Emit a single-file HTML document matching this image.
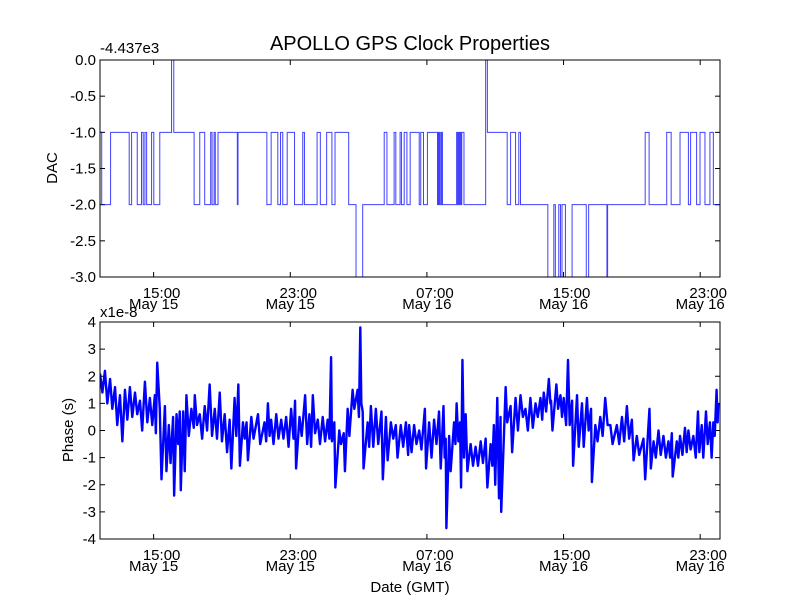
<!DOCTYPE html>
<html><head><meta charset="utf-8"><style>
body{margin:0;background:#fff;}
svg{display:block;font-family:"Liberation Sans","DejaVu Sans",sans-serif;}
</style></head><body>
<svg id="chart" width="800" height="600" viewBox="0 0 800 600">
<rect width="800" height="600" fill="#fff"/>
<text x="410" y="50" font-size="20" text-anchor="middle">APOLLO GPS Clock Properties</text>
<text x="100" y="53" font-size="15">-4.437e3</text>
<text x="100" y="317" font-size="15">x1e-8</text>
<text transform="translate(57,168) rotate(-90)" font-size="15" text-anchor="middle">DAC</text>
<text transform="translate(73,430) rotate(-90)" font-size="15" text-anchor="middle">Phase (s)</text>
<text x="410" y="592" font-size="15" text-anchor="middle">Date (GMT)</text>
<g id="top"></g><g id="bot"></g>
</svg>
<script>
const xTickHours=[15,23,31,39,47];
const xTickTimes=["15:00","23:00","07:00","15:00","23:00"];
const xTickDates=["May 15","May 15","May 16","May 16","May 16"];
const dacTicks=[0,-0.5,-1,-1.5,-2,-2.5,-3];
const phaseTicks=[4,3,2,1,0,-1,-2,-3,-4];
const dacTimes=[11.86,11.96,12.48,13.57,13.71,14.04,14.29,14.39,14.49,14.59,14.88,15.01,15.36,16.05,16.18,17.37,17.70,17.99,18.34,18.42,18.54,18.61,18.77,19.90,19.94,21.63,21.88,22.27,22.43,22.56,22.82,23.25,23.73,23.83,24.57,24.76,25.13,25.44,25.62,26.42,26.85,27.24,28.50,28.66,29.08,29.18,29.43,29.51,29.67,29.83,30.02,30.55,30.64,30.80,31.03,31.62,31.66,31.70,31.74,31.78,31.85,31.91,32.74,32.80,32.84,32.90,32.94,33.00,33.04,33.17,34.44,34.54,35.70,35.90,36.19,36.38,36.48,38.08,38.43,38.52,38.72,38.82,38.91,39.11,39.50,40.33,40.47,41.54,41.58,43.78,44.01,45.04,45.30,45.82,46.31,46.44,46.79,46.99,47.28,47.57,47.77];
const dacLevels=[-1,-2,-1,-2,-1,-2,-1,-2,-1,-2,-1,-2,-1,0,-1,-2,-1,-2,-1,-2,-1,-2,-1,-2,-1,-2,-1,-2,-1,-2,-1,-2,-1,-2,-1,-2,-1,-2,-1,-2,-3,-2,-1,-2,-1,-2,-1,-2,-1,-2,-1,-2,-1,-2,-1,-2,-1,-2,-1,-2,-1,-2,-1,-2,-1,-2,-1,-2,-1,-2,0,-1,-2,-1,-2,-1,-2,-3,-2,-3,-2,-3,-2,-3,-2,-3,-2,-3,-2,-1,-2,-1,-2,-1,-2,-1,-2,-1,-2,-1,-2];
const phaseTimes=[11.86,12.00,12.15,12.29,12.45,12.58,12.74,12.87,13.03,13.17,13.32,13.46,13.61,13.75,13.91,14.04,14.20,14.33,14.49,14.63,14.78,14.92,15.07,15.13,15.21,15.36,15.46,15.66,15.75,15.89,15.99,16.14,16.20,16.34,16.44,16.53,16.59,16.73,16.82,16.92,17.06,17.21,17.35,17.41,17.54,17.70,17.84,17.99,18.13,18.28,18.42,18.58,18.71,18.87,19.00,19.16,19.30,19.45,19.55,19.74,19.84,19.96,20.05,20.23,20.33,20.44,20.52,20.72,20.85,21.11,21.24,21.49,21.59,21.69,21.79,21.88,22.02,22.18,22.31,22.47,22.60,22.76,22.90,23.05,23.19,23.28,23.34,23.54,23.67,23.87,23.99,24.12,24.22,24.32,24.45,24.61,24.74,24.90,25.04,25.19,25.29,25.39,25.44,25.58,25.64,25.87,25.97,26.13,26.20,26.36,26.46,26.65,26.75,26.94,27.02,27.10,27.16,27.24,27.29,27.53,27.62,27.72,27.86,28.01,28.15,28.34,28.42,28.60,28.70,28.89,29.03,29.18,29.28,29.47,29.61,29.77,29.90,29.96,30.10,30.25,30.39,30.55,30.68,30.88,30.95,31.13,31.27,31.42,31.56,31.71,31.81,31.97,32.04,32.10,32.14,32.30,32.39,32.59,32.67,32.74,32.84,32.94,33.00,33.08,33.17,33.27,33.37,33.56,33.70,33.85,33.99,34.15,34.28,34.44,34.54,34.73,34.83,34.92,35.00,35.12,35.22,35.31,35.35,35.61,35.70,35.90,35.99,36.19,36.33,36.48,36.62,36.77,36.91,37.06,37.20,37.36,37.49,37.65,37.75,37.84,37.98,38.14,38.23,38.27,38.35,38.58,38.68,38.82,38.91,39.01,39.15,39.26,39.36,39.50,39.56,39.79,39.89,40.08,40.18,40.37,40.47,40.61,40.66,40.86,40.99,41.15,41.29,41.44,41.58,41.74,41.87,42.12,42.26,42.42,42.55,42.71,42.84,43.00,43.10,43.29,43.43,43.68,43.78,44.03,44.11,44.27,44.40,44.56,44.69,44.85,44.99,45.14,45.24,45.34,45.39,45.63,45.72,45.82,45.96,46.11,46.21,46.31,46.44,46.60,46.74,46.87,46.95,47.09,47.18,47.34,47.44,47.57,47.67,47.77,47.85,47.96,48.02,48.06];
const phaseValues=[2.1,1.4,2.2,1.0,1.9,0.8,1.6,0.2,1.3,-0.4,1.5,0.4,1.6,0.5,1.4,0.6,1.1,0.0,1.8,0.3,1.2,0.2,1.3,-0.1,2.5,0.8,-1.8,0.9,-1.5,0.2,-1.2,0.5,-2.4,0.6,-0.5,0.7,-2.2,0.7,-1.5,1.3,-0.2,0.8,0.1,1.3,0.2,0.6,-0.3,0.9,0.0,1.7,-0.2,0.8,-0.3,1.4,-0.4,0.6,-0.8,0.4,-1.4,1.2,-0.2,1.7,-1.3,0.3,-0.3,0.3,-1.1,0.5,-0.3,0.6,-0.5,0.3,-0.4,1.0,-0.2,0.4,-0.5,0.6,-0.3,0.4,-0.3,0.5,-0.6,0.8,-0.3,1.1,-1.4,0.5,-0.2,1.3,-0.5,0.6,-0.6,1.3,-0.1,0.4,-0.5,0.5,-0.4,0.4,-0.3,2.7,-0.4,0.3,-2.1,0.0,-0.5,-0.1,-1.5,0.8,-0.2,1.5,0.8,1.5,0.5,3.8,1.0,0.7,-1.4,0.3,-0.6,0.9,-0.6,0.8,-0.5,0.7,-1.8,0.5,-1.1,0.3,-0.3,0.2,-1.0,0.2,-0.6,0.3,-0.9,0.2,-0.8,0.2,-0.5,0.0,-0.7,0.8,-1.4,0.3,-1.0,0.4,-0.5,0.7,-1.4,0.9,-1.0,-0.3,-3.6,-0.2,-1.5,0.3,-0.5,1.0,-0.4,0.3,-2.1,2.6,-1.0,0.6,-1.5,-0.5,-1.3,-0.6,-1.3,-0.4,-1.2,-0.3,-2.1,-0.5,-1.3,0.2,-2.0,1.2,-2.5,0.5,-3.0,1.6,0.3,0.9,-0.8,1.2,0.0,1.3,0.5,0.8,0.0,1.2,0.1,1.0,0.5,1.2,0.4,1.4,0.7,1.9,1.0,1.1,0.0,1.7,0.8,1.3,0.5,1.2,0.2,2.6,0.2,1.1,-1.3,1.3,-0.6,1.0,-0.6,1.2,0.0,0.8,-1.9,0.2,-0.4,0.5,-0.2,1.2,0.2,0.2,-0.5,0.2,-0.5,0.5,-0.4,0.9,-0.3,0.4,-1.1,-0.2,-0.9,-0.3,-1.8,0.8,-1.4,-0.4,-1.0,0.0,-0.9,-0.2,-1.0,-0.4,-1.0,-0.1,-1.7,-0.4,-1.0,-0.2,-0.9,0.1,-0.8,0.0,-0.7,-0.2,-1.0,0.7,-0.8,0.2,-1.0,0.7,-0.5,0.3,-1.0,0.3,-0.2,1.5,0.3,1.0];

const NS="http://www.w3.org/2000/svg";
const X0=100,X1=720,TMIN=11.86,TMAX=48.16;
function xs(t){return X0+(t-TMIN)/(TMAX-TMIN)*(X1-X0);}
function mk(tag,attrs,parent){const e=document.createElementNS(NS,tag);for(const k in attrs)e.setAttribute(k,attrs[k]);parent.appendChild(e);return e;}

function axes(g,top,bot,vmin,vmax,ticks,fmt,name){
  const ys=v=>bot-(v-vmin)/(vmax-vmin)*(bot-top);
  const cp=mk('clipPath',{id:'clip-'+name},g);mk('rect',{x:X0,y:top,width:X1-X0,height:bot-top},cp);
  ticks.forEach(v=>{
    const y=ys(v);
    const l=mk('line',{x1:X0,x2:X0+5,y1:y,y2:y,stroke:'#000'},g);
    
    mk('line',{x1:X1-5,x2:X1,y1:y,y2:y,stroke:'#000'},g);
    const t=mk('text',{x:X0-4,y:y+5,'font-size':15,'text-anchor':'end'},g);t.textContent=fmt(v);
    
  });
  xTickHours.forEach((h,i)=>{
    const x=xs(h);
    mk('line',{x1:x,x2:x,y1:bot,y2:bot-5,stroke:'#000'},g);
    mk('line',{x1:x,x2:x,y1:top,y2:top+5,stroke:'#000'},g);
    const t1=mk('text',{x:x+8,y:bot+21,'font-size':15,'text-anchor':'middle'},g);t1.textContent=xTickTimes[i];
    
    const t2=mk('text',{x:x,y:bot+32,'font-size':15,'text-anchor':'middle'},g);t2.textContent=xTickDates[i];
    
  });
  return ys;
}
const gt=document.getElementById('top');
const yd=axes(gt,60,277,-3,0,dacTicks,v=>v.toFixed(1),'dac');
let d='';
dacTimes.forEach((t,i)=>{const x=xs(t),y=yd(dacLevels[i]);
  if(i===0)d+='M'+x+','+y;else d+='H'+x+'V'+y;});
d+='H'+X1;
const pd=mk('path',{d:d,fill:'none',stroke:'#0000ff','stroke-width':1,'stroke-opacity':0.75,'clip-path':'url(#clip-dac)'},gt);


const fr1=mk('rect',{x:X0,y:60,width:X1-X0,height:217,fill:'none',stroke:'#000'},gt);


const gb=document.getElementById('bot');
const yp=axes(gb,322,539,-4,4,phaseTicks,v=>String(v),'phase');
let p='';
phaseTimes.forEach((t,i)=>{p+=(i?'L':'M')+xs(t).toFixed(2)+','+yp(phaseValues[i]).toFixed(2);});
const pp=mk('path',{d:p,fill:'none',stroke:'#0000ff','stroke-width':2.4,'stroke-linejoin':'round','clip-path':'url(#clip-phase)'},gb);


const fr2=mk('rect',{x:X0,y:322,width:X1-X0,height:217,fill:'none',stroke:'#000'},gb);


</script>
</body></html>
